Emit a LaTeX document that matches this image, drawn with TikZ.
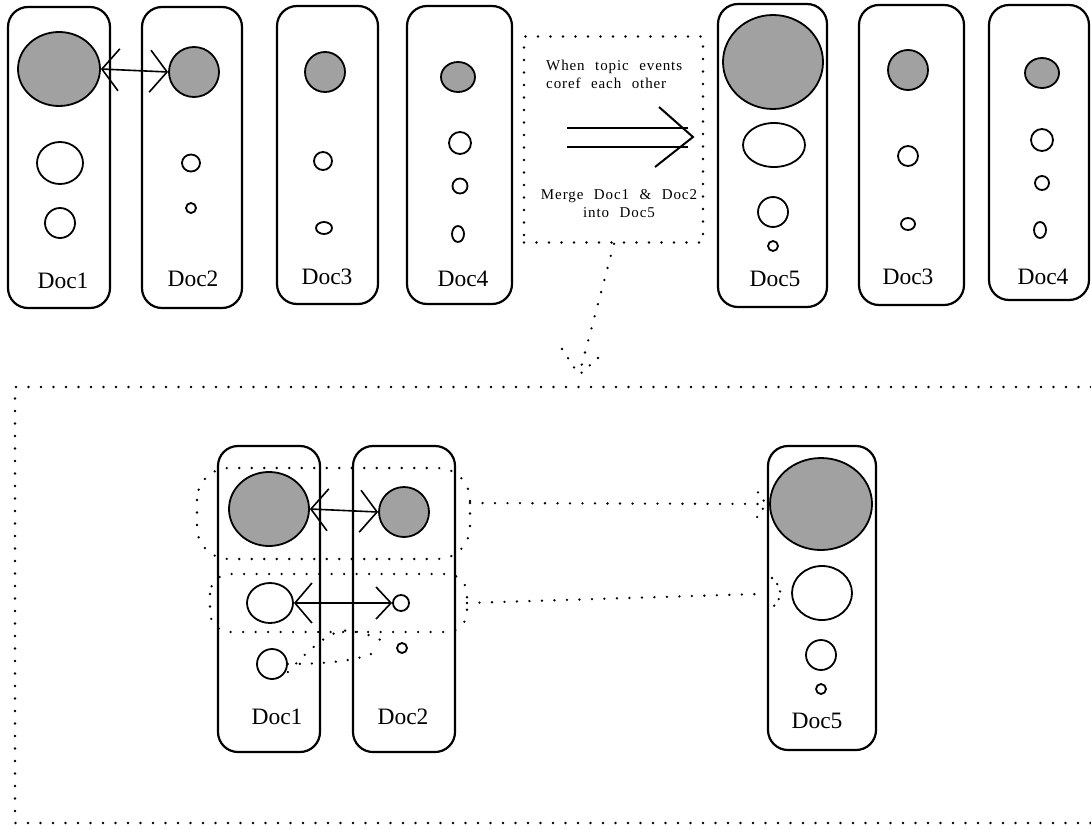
\documentclass[tikz,border=0pt]{standalone}
\usepackage{fontspec}
\usetikzlibrary{shapes.geometric,arrows.meta}
\setmainfont{Liberation Serif}
\newfontfamily\spacedfont[LetterSpace=6]{Liberation Serif}
\newcommand\wsp{\spaceskip=10.5pt plus 1pt\relax}
\begin{document}
\begin{tikzpicture}[x=1pt,y=-1pt,
  docbox/.style={draw, line width=2.2pt, rounded corners=20pt, inner sep=0pt},
  ev/.style={ellipse, draw, line width=1.8pt, inner sep=0pt},
  gev/.style={ev, fill=black!37},
  lbl/.style={font=\fontsize{23.5}{26}\selectfont, inner sep=0pt},
  smalltxt/.style={inner sep=0pt, font=\fontsize{15}{18}\spacedfont},
  dots/.style={line width=2.6pt, line cap=round, dash pattern=on 0pt off 12.5pt},
  dotbox/.style={draw, dots, inner sep=0pt},
  dbl/.style={line width=1.6pt, {Straight Barb[length=17pt,width=42pt]}-{Straight Barb[length=17pt,width=42pt]}},
  dbls/.style={line width=1.6pt, {Straight Barb[length=17pt,width=40pt]}-{Straight Barb[length=15pt,width=32pt]}},
  solid line/.style={line width=2pt}
]
\useasboundingbox (0,0) rectangle (1091,827);

% ---------------- top row ----------------
\node[docbox, minimum width=102, minimum height=301] (D1) at (59,157.5) {};
\node[docbox, minimum width=100, minimum height=301] (D2) at (192,157.5) {};
\node[docbox, minimum width=101, minimum height=298] (D3) at (327.5,155) {};
\node[docbox, minimum width=105, minimum height=298] (D4) at (459.5,155) {};
\node[docbox, minimum width=109, minimum height=303] (D5) at (772.5,155.5) {};
\node[docbox, minimum width=105, minimum height=300] (D3R) at (911.5,155) {};
\node[docbox, minimum width=100, minimum height=295] (D4R) at (1039,152.5) {};

\node[gev, minimum width=82, minimum height=74] (d1a) at (59,69) {};
\node[ev, minimum width=46, minimum height=42] (d1b) at (60,163) {};
\node[ev, minimum width=30, minimum height=30] (d1c) at (60,223) {};
\node[gev, minimum width=50, minimum height=50] (d2a) at (194,72) {};
\node[ev, minimum width=18, minimum height=17] (d2b) at (191,163) {};
\node[ev, minimum width=10, minimum height=10] (d2c) at (191,208) {};
\node[gev, minimum width=40, minimum height=40] (d3a) at (325,72) {};
\node[ev, minimum width=18, minimum height=18] (d3b) at (323,161) {};
\node[ev, minimum width=16, minimum height=12] (d3c) at (324,228) {};
\node[gev, minimum width=34, minimum height=30] (d4a) at (458,77) {};
\node[ev, minimum width=22, minimum height=22] (d4b) at (460,143) {};
\node[ev, minimum width=15, minimum height=15] (d4c) at (460,186) {};
\node[ev, minimum width=12, minimum height=16] (d4d) at (458,234) {};
\node[gev, minimum width=100, minimum height=94] (d5a) at (773,62) {};
\node[ev, minimum width=62, minimum height=44] (d5b) at (774,145) {};
\node[ev, minimum width=30, minimum height=30] (d5c) at (773,212) {};
\node[ev, minimum width=10, minimum height=10] (d5d) at (773,246) {};
\node[gev, minimum width=40, minimum height=40] (r3a) at (908,70) {};
\node[ev, minimum width=20, minimum height=20] (r3b) at (908,156) {};
\node[ev, minimum width=14, minimum height=12] (r3c) at (908,224) {};
\node[gev, minimum width=34, minimum height=30] (r4a) at (1042,73) {};
\node[ev, minimum width=22, minimum height=22] (r4b) at (1042,140) {};
\node[ev, minimum width=14, minimum height=14] (r4c) at (1042,183) {};
\node[ev, minimum width=12, minimum height=16] (r4d) at (1040,230) {};

\node[lbl] (l1) at (63,281) {Doc1};
\node[lbl] (l2) at (193,279) {Doc2};
\node[lbl] (l3) at (327,277) {Doc3};
\node[lbl] (l4) at (463,279) {Doc4};
\node[lbl] (l5) at (775,279) {Doc5};
\node[lbl] (l3r) at (908,277) {Doc3};
\node[lbl] (l4r) at (1043,277) {Doc4};

\draw[dbl] (d1a.east) -- (d2a.west);

% ---------------- merge box ----------------
\node[dotbox, minimum width=179, minimum height=206] (mbox) at (613.5,139.5) {};
\node[smalltxt, anchor=west, align=left] (t1) at (546,74) {\wsp When topic events\\\wsp coref each other};
\node[smalltxt, align=center] (t2) at (619,204) {\wsp Merge Doc1 \& Doc2\\\wsp into Doc5};
\coordinate (ia) at (567,128);
\coordinate (ib) at (567,147);
\coordinate (ic) at (688,128);
\coordinate (id) at (688,147);
\coordinate (itip) at (693,137);
\draw[solid line] (ia) -- (ic) (ib) -- (id);
\draw[solid line] (659,107) -- (itip) -- (655,167);

% dotted arrow down
\coordinate (dtip) at (579,375);
\draw[dots] ([xshift=0.5pt]mbox.south) -- (dtip);
\draw[dots, dash pattern=on 0pt off 11pt] (562,349) -- (dtip) (598,358) -- (dtip);

% big dotted frame
\draw[dots] (1091,387) -- (15,387) -- (15,823) -- (1091,823);

% ---------------- bottom ----------------
\node[docbox, minimum width=102, minimum height=306] (B1) at (269,599) {};
\node[docbox, minimum width=102, minimum height=306] (B2) at (404,599) {};
\node[docbox, minimum width=108, minimum height=304] (B5) at (822,598) {};

\node[gev, minimum width=80, minimum height=74] (b1a) at (269,509) {};
\node[gev, minimum width=50, minimum height=50] (b2a) at (404,512) {};
\node[ev, minimum width=46, minimum height=40] (b1b) at (270,603) {};
\node[ev, minimum width=16, minimum height=16] (b2b) at (401,603) {};
\node[ev, minimum width=30, minimum height=30] (b1c) at (272,664) {};
\node[ev, minimum width=10, minimum height=10] (b2c) at (402,648) {};
\node[gev, minimum width=102, minimum height=92] (b5a) at (821,504) {};
\node[ev, minimum width=60, minimum height=54] (b5b) at (822,593) {};
\node[ev, minimum width=30, minimum height=30] (b5c) at (821,655) {};
\node[ev, minimum width=10, minimum height=10] (b5d) at (821,689) {};

\node[lbl] (bl1) at (277,717) {Doc1};
\node[lbl] (bl2) at (403,717) {Doc2};
\node[lbl] (bl5) at (817,721) {Doc5};

\draw[dbl] (b1a.east) -- (b2a.west);
\draw[dbls] (b1b.east) -- (b2b.west);

% dotted groups
\draw[dots, rounded corners=32pt] (197,468) rectangle (470,559);
\coordinate (g1) at (470,503);
\draw[dots, rounded corners=20pt] (210,574) rectangle (467,632);
\coordinate (g2) at (467,603);

% lasso between lower events
\draw[dots, dash pattern=on 0pt off 12pt] (b1c.east) .. controls (330,664) and (362,660) .. (380,650);
\draw[dots, dash pattern=on 0pt off 12pt] ([yshift=-8pt]b1c.east) .. controls (318,640) and (335,628) .. (352,631) .. controls (365,633) and (378,638) .. (386,643);

% dotted links to Doc5
\draw[dots] (g1) -- (b5a.west);
\draw[dots, dash pattern=on 0pt off 10pt] ([shift={(-12pt,-13pt)}]b5a.west) -- ([xshift=-3pt]b5a.west) -- ([shift={(-12pt,13pt)}]b5a.west);
\coordinate (e2) at (757,594);
\draw[dots] (g2) -- (e2);
\draw[dots, dash pattern=on 0pt off 8pt] (772,578) .. controls (783,588) and (783,598) .. (772,608);
\end{tikzpicture}
\end{document}
